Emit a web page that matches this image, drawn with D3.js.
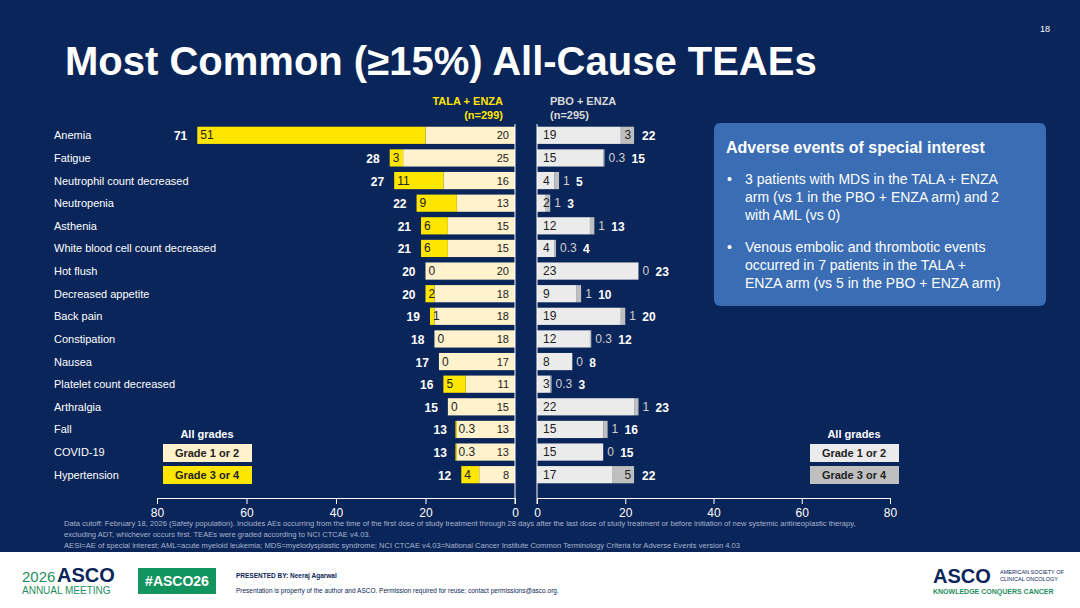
<!DOCTYPE html>
<html><head><meta charset="utf-8">
<script src="https://cdn.jsdelivr.net/npm/d3@7"></script>
<style>body{margin:0;background:#fff}svg{display:block;font-family:"Liberation Sans",Arial,sans-serif}</style>
</head><body><svg width="1080" height="608"></svg>
<script>
const categories = ["Anemia","Fatigue","Neutrophil count decreased","Neutropenia","Asthenia","White blood cell count decreased","Hot flush","Decreased appetite","Back pain","Constipation","Nausea","Platelet count decreased","Arthralgia","Fall","COVID-19","Hypertension"];
const talaG12 = [20,25,16,13,15,15,20,18,18,18,17,11,15,13,13,8];
const talaG34 = [51,3,11,9,6,6,0,2,1,0,0,5,0,0.3,0.3,4];
const talaAll = [71,28,27,22,21,21,20,20,19,18,17,16,15,13,13,12];
const pboG12 = [19,15,4,2,12,4,23,9,19,12,8,3,22,15,15,17];
const pboG34 = [3,0.3,1,1,1,0.3,0,1,1,0.3,0,0.3,1,1,0,5];
const pboAll = [22,15,5,3,13,4,23,10,20,12,8,3,23,16,15,22];
const ticks = [0,20,40,60,80];

const svg = d3.select("svg");
svg.append("rect").attr("width",1080).attr("height",552).attr("fill","#0a2559");

svg.append("text").attr("x",65).attr("y",75).attr("fill","#fff").attr("font-size",40).attr("font-weight","bold").text("Most Common (≥15%) All-Cause TEAEs");
svg.append("text").attr("x",1050).attr("y",32).attr("fill","#fff").attr("font-size",9).attr("text-anchor","end").text("18");

const xL = d3.scaleLinear().domain([0,80]).range([515,157]);
const xR = d3.scaleLinear().domain([0,80]).range([537,890]);
const y = d3.scaleBand().domain(categories).range([124,486]).paddingInner(0.24).paddingOuter(0.12);
const bh = y.bandwidth();
const fmt = v => String(v);

// headers
svg.append("text").attr("x",503).attr("y",105).attr("fill","#ffe600").attr("font-size",11).attr("font-weight","bold").attr("text-anchor","end").text("TALA + ENZA");
svg.append("text").attr("x",503).attr("y",119).attr("fill","#ffe600").attr("font-size",11).attr("font-weight","bold").attr("text-anchor","end").text("(n=299)");
svg.append("text").attr("x",550).attr("y",105).attr("fill","#d9d9d9").attr("font-size",11).attr("font-weight","bold").text("PBO + ENZA");
svg.append("text").attr("x",550).attr("y",119).attr("fill","#d9d9d9").attr("font-size",11).attr("font-weight","bold").text("(n=295)");

const rows = svg.append("g").selectAll("g").data(categories).join("g")
  .attr("transform", c => `translate(0,${y(c)})`);

rows.append("text").attr("x",54).attr("y",bh/2+4).attr("fill","#fff").attr("font-size",11).text(c => c);

// left bars
rows.append("rect").attr("x",(c,i)=>xL(talaG12[i])).attr("width",(c,i)=>xL(0)-xL(talaG12[i])).attr("height",bh).attr("fill","#fff2cc");
rows.append("rect").attr("x",(c,i)=>xL(talaG12[i]+talaG34[i])).attr("width",(c,i)=>xL(talaG12[i])-xL(talaG12[i]+talaG34[i])).attr("height",bh).attr("fill","#ffe600");
rows.append("text").attr("x",xL(0)-6).attr("y",bh/2+4).attr("text-anchor","end").attr("font-size",11).attr("fill","#222").text((c,i)=>fmt(talaG12[i]));
rows.append("text").attr("x",(c,i)=>xL(talaG12[i]+talaG34[i])+3).attr("y",bh/2+4).attr("font-size",12).attr("fill","#222").text((c,i)=>fmt(talaG34[i]));
rows.append("text").attr("x",(c,i)=>xL(talaAll[i])-10).attr("y",bh/2+5).attr("text-anchor","end").attr("font-size",12).attr("font-weight","bold").attr("fill","#fff").text((c,i)=>fmt(talaAll[i]));

// right bars
rows.append("rect").attr("x",xR(0)).attr("width",(c,i)=>xR(pboG12[i])-xR(0)).attr("height",bh).attr("fill","#ebebeb");
rows.append("rect").attr("x",(c,i)=>xR(pboG12[i])).attr("width",(c,i)=>xR(pboG12[i]+pboG34[i])-xR(pboG12[i])).attr("height",bh).attr("fill","#bfbfbf");
rows.append("text").attr("x",xR(0)+6).attr("y",bh/2+4).attr("font-size",12).attr("fill","#222").text((c,i)=>fmt(pboG12[i]));
rows.append("text")
  .attr("x",(c,i)=> pboG34[i]>=3 ? xR(pboG12[i]+pboG34[i])-3 : xR(pboG12[i]+pboG34[i])+4)
  .attr("text-anchor",(c,i)=> pboG34[i]>=3 ? "end" : "start")
  .attr("y",bh/2+4).attr("font-size",12)
  .attr("fill",(c,i)=> pboG34[i]>=3 ? "#222" : "#d0d0d0")
  .text((c,i)=>fmt(pboG34[i]));
rows.append("text")
  .attr("x",(c,i)=> xR(pboG12[i]+pboG34[i]) + (pboG34[i]>=3 ? 8 : (fmt(pboG34[i]).length>1 ? 27 : 17)))
  .attr("y",bh/2+5).attr("font-size",12).attr("font-weight","bold").attr("fill","#fff").text((c,i)=>fmt(pboAll[i]));

// axes
const axL = svg.append("g").attr("transform","translate(0,498)").call(d3.axisBottom(xL).tickValues(ticks).tickSize(6).tickPadding(4));
const axR = svg.append("g").attr("transform","translate(0,498)").call(d3.axisBottom(xR).tickValues(ticks).tickSize(6).tickPadding(4));
[axL,axR].forEach(a=>{
  a.selectAll("line").attr("stroke","#fff").attr("y1",0);
  a.selectAll("text").attr("fill","#fff").attr("font-size",12).attr("font-family","Liberation Sans, Arial");
});
axL.select(".domain").attr("stroke","#fff").attr("d",`M${xL(80)},0.5H${xL(0)}`);
axR.select(".domain").attr("stroke","#fff").attr("d",`M${xR(0)},0.5H${xR(80)}`);
svg.append("line").attr("x1",xL(0)).attr("x2",xL(0)).attr("y1",124).attr("y2",504).attr("stroke","#fff");
svg.append("line").attr("x1",xR(0)).attr("x2",xR(0)).attr("y1",124).attr("y2",504).attr("stroke","#fff");

// legends
function legend(x, c1, c2, t1, t2){
  svg.append("text").attr("x",x+44).attr("y",438).attr("text-anchor","middle").attr("fill","#fff").attr("font-size",11).attr("font-weight","bold").text("All grades");
  svg.append("rect").attr("x",x).attr("y",444).attr("width",89).attr("height",18).attr("fill",c1);
  svg.append("text").attr("x",x+44).attr("y",457).attr("text-anchor","middle").attr("font-size",11).attr("font-weight","bold").attr("fill","#222").text(t1);
  svg.append("rect").attr("x",x).attr("y",466).attr("width",89).attr("height",18).attr("fill",c2);
  svg.append("text").attr("x",x+44).attr("y",479).attr("text-anchor","middle").attr("font-size",11).attr("font-weight","bold").attr("fill","#222").text(t2);
}
legend(163,"#fff2cc","#ffe600","Grade 1 or 2","Grade 3 or 4");
legend(810,"#ebebeb","#bfbfbf","Grade 1 or 2","Grade 3 or 4");

// AESI box
svg.append("rect").attr("x",714).attr("y",123).attr("width",332).attr("height",183).attr("rx",6).attr("fill","#3a6db3");
svg.append("text").attr("x",726).attr("y",153).attr("fill","#fff").attr("font-size",16).attr("font-weight","bold").text("Adverse events of special interest");
const bul = [["3 patients with MDS in the TALA + ENZA","arm (vs 1 in the PBO + ENZA arm) and 2","with AML (vs 0)"],["Venous embolic and thrombotic events","occurred in 7 patients in the TALA +","ENZA arm (vs 5 in the PBO + ENZA arm)"]];
bul.forEach((b,k)=>{
  const y0 = 184 + k*68;
  svg.append("text").attr("x",727).attr("y",y0).attr("fill","#fff").attr("font-size",14).text("•");
  b.forEach((l,j)=>svg.append("text").attr("x",745).attr("y",y0+j*18).attr("fill","#fff").attr("font-size",14).text(l));
});

// footnotes
const notes = ["Data cutoff: February 18, 2026 (Safety population). Includes AEs occurring from the time of the first dose of study treatment through 28 days after the last dose of study treatment or before initiation of new systemic antineoplastic therapy,","excluding ADT, whichever occurs first. TEAEs were graded according to NCI CTCAE v4.03.","AESI=AE of special interest; AML=acute myeloid leukemia; MDS=myelodysplastic syndrome; NCI CTCAE v4.03=National Cancer Institute Common Terminology Criteria for Adverse Events version 4.03"];
notes.forEach((n,i)=>svg.append("text").attr("x",64).attr("y",526+i*11).attr("fill","#a8b4cc").attr("font-size",7.6).text(n));

// footer
svg.append("text").attr("x",22).attr("y",582).attr("fill","#1f8f5f").attr("font-size",15).text("2026");
svg.append("text").attr("x",57).attr("y",582).attr("fill","#0a2559").attr("font-size",20).attr("font-weight","bold").text("ASCO");
svg.append("text").attr("x",22).attr("y",594).attr("fill","#1f8f5f").attr("font-size",10).text("ANNUAL MEETING");
svg.append("rect").attr("x",138).attr("y",568).attr("width",78).attr("height",26).attr("fill","#12945e");
svg.append("text").attr("x",177).attr("y",586).attr("text-anchor","middle").attr("fill","#fff").attr("font-size",14).attr("font-weight","bold").text("#ASCO26");
svg.append("text").attr("x",236).attr("y",578).attr("fill","#0a2559").attr("font-size",6.5).attr("font-weight","bold").text("PRESENTED BY: Neeraj Agarwal");
svg.append("text").attr("x",236).attr("y",593).attr("fill","#0a2559").attr("font-size",6.5).text("Presentation is property of the author and ASCO. Permission required for reuse; contact permissions@asco.org.");
svg.append("text").attr("x",933).attr("y",583).attr("fill","#0a2559").attr("font-size",20).attr("font-weight","bold").text("ASCO");
svg.append("text").attr("x",1000).attr("y",574).attr("fill","#0a2559").attr("font-size",5.5).text("AMERICAN SOCIETY OF");
svg.append("text").attr("x",1000).attr("y",581).attr("fill","#0a2559").attr("font-size",5.5).text("CLINICAL ONCOLOGY");
svg.append("text").attr("x",933).attr("y",594).attr("fill","#1f8f5f").attr("font-size",7).attr("font-weight","bold").text("KNOWLEDGE CONQUERS CANCER");
</script></body></html>
